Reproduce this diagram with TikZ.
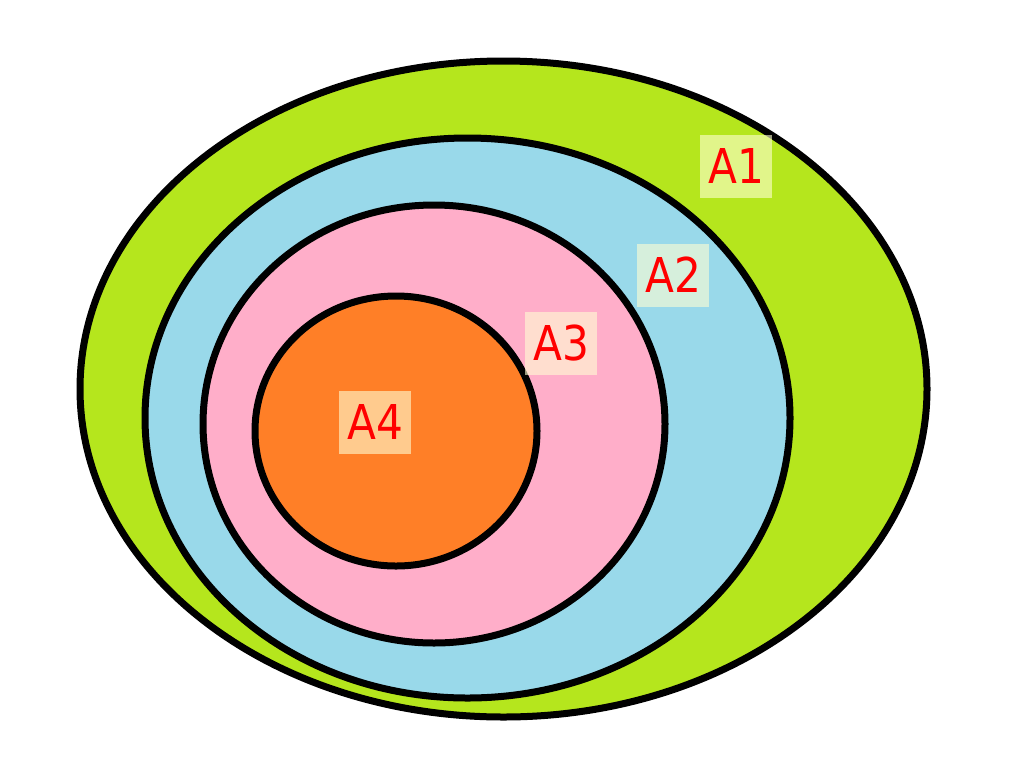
\documentclass[tikz,border=0pt]{standalone}
\usepackage{fontspec}
\usepackage{tikz}
\usetikzlibrary{backgrounds}
\newfontfamily\labfont[FakeStretch=0.88]{DejaVu Sans}
\definecolor{lime}{HTML}{B5E61D}
\definecolor{sky}{HTML}{99D9EA}
\definecolor{rose}{HTML}{FFAEC9}
\definecolor{tangerine}{HTML}{FF7F27}
\definecolor{cream}{HTML}{FFFFD4}

\begin{document}
\begin{tikzpicture}[x=1pt,y=-1pt]
\tikzstyle{set}=[draw=black,line width=7pt]
\tikzstyle{tag}=[fill=cream,fill opacity=.6,text opacity=1,text=red,inner sep=0pt,minimum width=72pt,minimum height=63pt,font=\labfont\fontsize{48}{48}\selectfont]
\useasboundingbox (0,0) rectangle (1024,777);

% the four sets, outside in
\draw[set,fill=lime]      (503.5,389) ellipse (423.5 and 328);
\draw[set,fill=sky]       (467.5,418) ellipse (322.5 and 280);
\draw[set,fill=rose]      (434,424)   ellipse (231 and 219);
\draw[set,fill=tangerine] (396,431)   ellipse (141 and 135);

\node[tag] (A1) at (736,166) {A1};
\node[tag] (A2) at (673,275) {A2};
\node[tag] (A3) at (561,343) {A3};
\node[tag] (A4) at (375,422) {A4};
\end{tikzpicture}
\end{document}
